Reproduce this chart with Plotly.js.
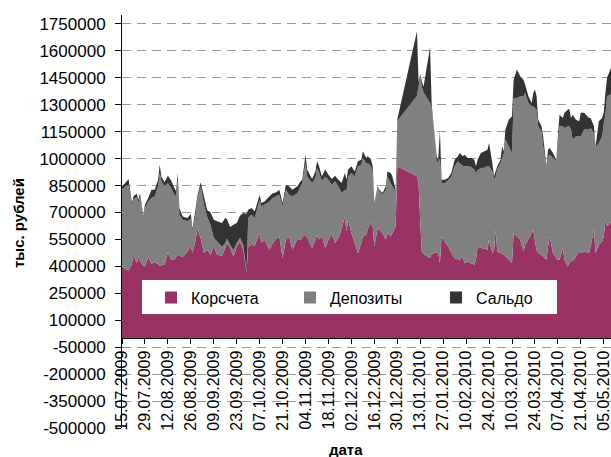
<!DOCTYPE html>
<html>
<head>
<meta charset="utf-8">
<script src="https://cdn.plot.ly/plotly-3.0.1.min.js"></script>
<style>html,body{margin:0;padding:0;background:#fff;}#chart{width:611px;height:457px;}</style>
</head>
<body>
<div id="chart"></div>
<script>
// ---- data (тыс. рублей) ----
const dates = ['2009-07-15','2009-07-17','2009-07-19','2009-07-21','2009-07-22','2009-07-24','2009-07-25','2009-07-26','2009-07-28','2009-07-29','2009-07-31',
'2009-08-02','2009-08-04','2009-08-06','2009-08-07','2009-08-08','2009-08-10','2009-08-12','2009-08-14','2009-08-16','2009-08-17','2009-08-18','2009-08-19','2009-08-21','2009-08-24','2009-08-26','2009-08-27','2009-08-29','2009-08-30',
'2009-09-01','2009-09-03','2009-09-05','2009-09-07','2009-09-09','2009-09-11','2009-09-14','2009-09-16','2009-09-17','2009-09-19','2009-09-21','2009-09-23','2009-09-25','2009-09-27','2009-09-29','2009-09-30',
'2009-10-02','2009-10-04','2009-10-07','2009-10-08','2009-10-10','2009-10-13','2009-10-15','2009-10-17','2009-10-19','2009-10-21','2009-10-23','2009-10-25','2009-10-27','2009-10-30',
'2009-11-01','2009-11-02','2009-11-04','2009-11-05','2009-11-08','2009-11-10','2009-11-11','2009-11-12','2009-11-14','2009-11-16','2009-11-18','2009-11-20','2009-11-22','2009-11-24','2009-11-26','2009-11-28','2009-11-29','2009-11-30',
'2009-12-02','2009-12-04','2009-12-06','2009-12-08','2009-12-09','2009-12-11','2009-12-12','2009-12-14','2009-12-15','2009-12-16','2009-12-18','2009-12-19','2009-12-21','2009-12-23','2009-12-24','2009-12-26','2009-12-27','2009-12-29','2009-12-30',
'2010-01-11','2010-01-12','2010-01-13','2010-01-14','2010-01-15','2010-01-19','2010-01-20','2010-01-22','2010-01-23','2010-01-24','2010-01-25','2010-01-26','2010-01-28','2010-01-30',
'2010-02-01','2010-02-03','2010-02-05','2010-02-06','2010-02-08','2010-02-09','2010-02-11','2010-02-13','2010-02-15','2010-02-16','2010-02-17','2010-02-19','2010-02-21','2010-02-23','2010-02-24','2010-02-26','2010-02-27','2010-02-28',
'2010-03-01','2010-03-03','2010-03-04','2010-03-05','2010-03-06','2010-03-08','2010-03-10','2010-03-11','2010-03-13','2010-03-15','2010-03-17','2010-03-18','2010-03-20','2010-03-22','2010-03-23','2010-03-24','2010-03-25','2010-03-26','2010-03-28','2010-03-29','2010-03-31',
'2010-04-01','2010-04-02','2010-04-04','2010-04-06','2010-04-07','2010-04-08','2010-04-10','2010-04-11','2010-04-13','2010-04-14','2010-04-15','2010-04-16','2010-04-18','2010-04-20','2010-04-21','2010-04-23','2010-04-26','2010-04-27','2010-04-29','2010-04-30',
'2010-05-02','2010-05-04','2010-05-05','2010-05-06','2010-05-07','2010-05-09','2010-05-10'];

const korr = [399000,385000,377000,409000,465000,418000,455000,428000,403000,396000,452000,
415000,422000,415000,403000,407000,409000,478000,437000,440000,452000,465000,459000,452000,483000,515000,474000,548000,608000,
558000,474000,493000,465000,515000,465000,459000,502000,530000,502000,455000,511000,539000,493000,366000,511000,
520000,515000,585000,530000,548000,493000,530000,552000,567000,446000,548000,567000,493000,552000,
548000,563000,576000,558000,502000,548000,576000,548000,567000,502000,548000,582000,530000,558000,608000,678000,595000,660000,
586000,530000,474000,530000,567000,576000,608000,641000,623000,511000,613000,604000,585000,548000,585000,567000,585000,623000,957000,
902000,860000,650000,480000,470000,446000,470000,474000,480000,474000,418000,567000,539000,511000,
474000,446000,440000,437000,452000,418000,427000,418000,409000,437000,511000,502000,500000,493000,548000,474000,483000,604000,
483000,474000,470000,465000,455000,440000,418000,585000,567000,548000,483000,520000,548000,585000,604000,540000,493000,474000,465000,455000,437000,
511000,567000,474000,446000,437000,437000,502000,437000,400000,418000,437000,427000,455000,483000,474000,483000,474000,511000,604000,474000,
520000,539000,567000,660000,623000,641000,650000];

const depo = [428000,461000,478000,325000,310000,368000,298000,362000,272000,329000,310000,
366000,368000,431000,517000,467000,437000,386000,399000,359000,338000,418000,229000,208000,168000,149000,121000,145000,163000,
288000,270000,182000,167000,45000,75000,51000,28000,25000,18000,35000,19000,21000,27000,6000,158000,
168000,154000,186000,204000,196000,269000,251000,238000,232000,288000,279000,232000,297000,256000,
298000,301000,400000,343000,362000,344000,372000,381000,307000,399000,335000,273000,344000,288000,201000,149000,223000,241000,
334000,371000,483000,436000,437000,400000,368000,316000,297000,233000,223000,214000,214000,279000,316000,297000,261000,195000,253000,
448000,545000,805000,920000,900000,864000,810000,621000,496000,511000,582000,297000,325000,368000,
427000,511000,545000,539000,509000,539000,530000,536000,530000,483000,424000,446000,450000,464000,409000,455000,400000,296000,
456000,502000,534000,565000,651000,629000,614000,753000,771000,800000,865000,846000,762000,707000,688000,742000,780000,706000,687000,614000,518000,
502000,455000,530000,539000,650000,743000,678000,734000,780000,762000,725000,679000,669000,641000,650000,679000,688000,660000,539000,591000,
567000,585000,632000,585000,725000,716000,720000];

const saldo = [19000,18000,31000,19000,15000,19000,18000,18000,7000,18000,19000,
46000,37000,37000,46000,27000,22000,41000,43000,37000,28000,37000,37000,18000,18000,29000,13000,32000,19000,
22000,46000,37000,69000,100000,111000,131000,139000,109000,99000,142000,111000,122000,177000,321000,47000,
37000,37000,28000,19000,18000,28000,27000,22000,28000,19000,28000,47000,37000,38000,
28000,19000,46000,38000,23000,37000,37000,37000,27000,38000,28000,32000,31000,37000,55000,93000,65000,38000,
37000,28000,28000,28000,37000,28000,37000,37000,37000,9000,10000,9000,10000,19000,28000,56000,55000,9000,8000,
360000,20000,15000,30000,30000,310000,20000,15000,37000,9000,160000,19000,19000,13000,
19000,37000,28000,56000,52000,65000,47000,50000,55000,37000,59000,84000,90000,93000,130000,47000,18000,30000,
18000,18000,65000,10000,56000,148000,204000,102000,158000,111000,92000,47000,38000,18000,74000,103000,75000,37000,28000,55000,5000,
37000,37000,28000,9000,37000,65000,47000,84000,93000,97000,65000,139000,93000,84000,131000,93000,65000,56000,37000,4000,
121000,103000,56000,121000,102000,139000,140000];

const seriesNames = ['Корсчета','Депозиты','Сальдо'];
const seriesColors = ['#993366','#808080','#333333'];
const xTickVals = ['2009-07-15','2009-07-29','2009-08-12','2009-08-26','2009-09-09','2009-09-23','2009-10-07','2009-10-21','2009-11-04','2009-11-18','2009-12-02','2009-12-16','2009-12-30',
'2010-01-13','2010-01-27','2010-02-10','2010-02-24','2010-03-10','2010-03-24','2010-04-07','2010-04-21','2010-05-05'];
const xTickText = ['15.07.2009','29.07.2009','12.08.2009','26.08.2009','09.09.2009','23.09.2009','07.10.2009','21.10.2009','04.11.2009','18.11.2009','02.12.2009','16.12.2009','30.12.2009',
'13.01.2010','27.01.2010','10.02.2010','24.02.2010','10.03.2010','24.03.2010','07.04.2010','21.04.2010','05.05.2010'];
const yTickVals = [-500000,-350000,-200000,-50000,100000,250000,400000,550000,700000,850000,1000000,1150000,1300000,1450000,1600000,1750000];
const yTickText = ['-500000','-350000','-200000','-50000','100000','250000','400000','550000','700000','850000','1000000','1150000','1300000','1450000','1600000','1750000'];
const yTitle = 'тыс. рублей';
const xTitle = 'дата';

// ---- geometry helpers ----
const W = 611, H = 457;
const M = {l:122, r:0, t:15, b:29};
const PW = W - M.l - M.r, PH = H - M.t - M.b;
const px = v => (v - M.l) / PW;            // pixel x -> paper
const py = v => (H - M.b - v) / PH;        // pixel y -> paper
const yMin = -500000, yMax = 1800000;

const FONT = 'Arial, "Liberation Sans", sans-serif';
const seriesData = [korr, depo, saldo];
const legendIds = ['legend','legend2','legend3'];

const traces = [];
seriesData.forEach((vals, i) => {
  traces.push({
    type:'scatter', x: dates, y: vals, name: seriesNames[i],
    mode:'none', stackgroup:'one', fillcolor: seriesColors[i],
    line:{width:0}, showlegend:false, hoverinfo:'x+y+name'
  });
});
seriesData.forEach((vals, i) => {
  traces.push({
    type:'bar', x:[null], y:[null], name: seriesNames[i],
    marker:{color: seriesColors[i], line:{width:0}},
    legend: legendIds[i], showlegend:true, hoverinfo:'skip'
  });
});

// legend entries: text start ~186/325/471 px, swatch ~170/310/455 px (compromise offset)
const legendTextX = [191, 330, 476];
const legendCommon = {orientation:'h', xanchor:'left', yanchor:'middle', y: py(297.5),
  bgcolor:'rgba(0,0,0,0)', borderwidth:0, font:{family:FONT, size:16, color:'#000'}};

const layout = {
  width: W, height: H,
  margin: {l:M.l, r:M.r, t:M.t, b:M.b, pad:0},
  paper_bgcolor:'#ffffff', plot_bgcolor:'#ffffff',
  font:{family:FONT, size:16, color:'#000'},
  showlegend:true,
  xaxis:{
    type:'date', range:['2009-07-15','2010-05-09 10:00'],
    anchor:'free', position:(0 - yMin)/(yMax - yMin),
    showline:true, linecolor:'#000', linewidth:1,
    ticks:'outside', ticklen:5, tickcolor:'#000', tickwidth:1,
    tickmode:'array', tickvals:xTickVals, ticktext:xTickText,
    tickangle:-90, tickfont:{family:FONT, size:16, color:'#000'},
    ticklabeloverflow:'allow',
    showgrid:false, zeroline:false, fixedrange:true
  },
  yaxis:{
    range:[yMin, yMax], tickmode:'array', tickvals:yTickVals, ticktext:yTickText,
    showline:true, linecolor:'#000', linewidth:1,
    ticks:'outside', ticklen:6, tickcolor:'#000',
    tickfont:{family:FONT, size:17, color:'#000'}, ticklabelstandoff:6,
    showgrid:true, gridcolor:'#9a9a9a', gridwidth:1, griddash:'9px,6px',
    zeroline:false, fixedrange:true
  },
  barmode:'overlay',
  shapes:[{type:'rect', xref:'paper', yref:'paper', layer:'above',
    x0:px(142), x1:px(557), y0:py(314), y1:py(280),
    fillcolor:'#ffffff', line:{width:0}}],
  annotations:[
    {text:yTitle, xref:'paper', yref:'paper', x:px(19), y:py(223), textangle:-90,
     showarrow:false, xanchor:'center', yanchor:'middle',
     font:{family:FONT, size:15, color:'#000', weight:'bold'}},
    {text:xTitle, xref:'paper', yref:'paper', x:px(346), y:py(449),
     showarrow:false, xanchor:'center', yanchor:'middle',
     font:{family:FONT, size:15, color:'#000', weight:'bold'}}
  ],
  legend:  Object.assign({}, legendCommon, {x:px(legendTextX[0]-40)}),
  legend2: Object.assign({}, legendCommon, {x:px(legendTextX[1]-40)}),
  legend3: Object.assign({}, legendCommon, {x:px(legendTextX[2]-40)})
};

Plotly.newPlot('chart', traces, layout, {displayModeBar:false, staticPlot:true});
</script>
</body>
</html>
